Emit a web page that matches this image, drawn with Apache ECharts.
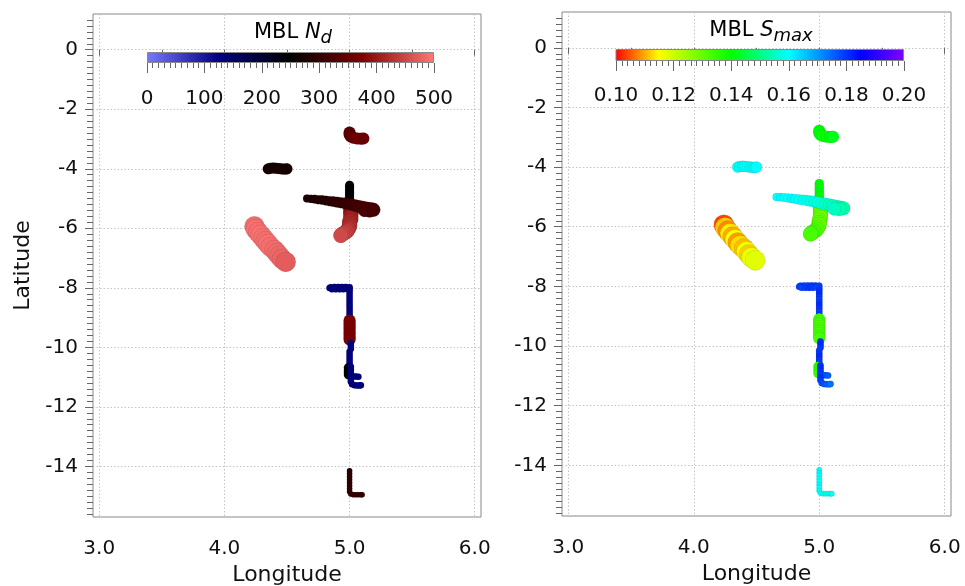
<!DOCTYPE html>
<html><head><meta charset="utf-8">
<script src="https://cdn.jsdelivr.net/npm/echarts@6/dist/echarts.min.js"></script>
<style>html,body{margin:0;padding:0;background:#fff}#c{width:965px;height:586px}</style>
</head><body><div id="c"></div>
<script>
// ---- data: each row = [longitude, latitude, Nd, Smax] ----
const trackPink = [
 [4.24,-5.93,488,0.104],[4.25,-6.03,492,0.112],[4.27,-6.13,490,0.108],[4.29,-6.23,494,0.114],
 [4.31,-6.33,491,0.110],[4.33,-6.43,489,0.115],[4.35,-6.53,493,0.109],[4.37,-6.63,490,0.113],
 [4.40,-6.73,487,0.111],[4.42,-6.83,485,0.116],[4.44,-6.93,483,0.112],[4.46,-7.03,480,0.117],
 [4.49,-7.13,472,0.118]
];
const trackDark4 = [
 [4.35,-4.00,268,0.160],[4.37,-3.98,272,0.158],[4.39,-3.97,270,0.161],[4.41,-3.98,275,0.159],
 [4.43,-3.99,273,0.160],[4.45,-4.00,278,0.158],[4.47,-4.01,276,0.161],[4.49,-4.01,274,0.159],
 [4.50,-4.00,270,0.160]
];
const trackTop = [
 [5.00,-2.78,335,0.140],[5.00,-2.85,338,0.141],[5.01,-2.92,342,0.140],[5.03,-2.96,350,0.139],
 [5.06,-2.98,360,0.141],[5.09,-2.99,365,0.140],[5.11,-2.98,355,0.142]
];
const trackBlackV = [
 [5.00,-4.55,242,0.140],[5.00,-4.63,244,0.141],[5.00,-4.71,245,0.139],[5.00,-4.79,246,0.140],
 [5.00,-4.87,248,0.141],[5.00,-4.95,250,0.140],[5.00,-5.03,252,0.139],[5.00,-5.11,255,0.138],
 [5.00,-5.19,258,0.137]
];
const trackRed = [
 [5.01,-5.30,360,0.133],[5.01,-5.38,370,0.132],[5.01,-5.46,385,0.131],[5.01,-5.54,395,0.130],
 [5.01,-5.62,405,0.131],[5.01,-5.70,410,0.129],[5.00,-5.78,415,0.130],[5.00,-5.86,418,0.131],
 [5.00,-5.94,422,0.130],[4.99,-6.02,428,0.131],[4.98,-6.09,435,0.132],[4.96,-6.15,442,0.133],
 [4.94,-6.20,448,0.134],[4.93,-6.24,452,0.133]
];
const trackDiag = [
 [4.66,-5.00,275,0.160],[4.69,-5.01,278,0.161],[4.72,-5.02,280,0.159],[4.75,-5.04,283,0.160],
 [4.78,-5.05,285,0.161],[4.81,-5.07,288,0.159],[4.84,-5.09,290,0.160],[4.87,-5.10,293,0.158],
 [4.90,-5.12,296,0.159],[4.93,-5.14,299,0.158],[4.96,-5.16,302,0.157],[4.99,-5.18,305,0.158],
 [5.02,-5.21,308,0.157],[5.05,-5.24,312,0.156],[5.08,-5.27,316,0.155],[5.11,-5.30,320,0.156],
 [5.14,-5.33,322,0.154],[5.17,-5.36,318,0.155],[5.19,-5.38,315,0.153],[5.16,-5.41,320,0.154],
 [5.12,-5.40,318,0.155]
];
const trackBlueA = [
 [5.00,-7.98,128,0.178],[4.97,-7.97,126,0.179],[4.94,-7.97,125,0.180],[4.91,-7.97,127,0.179],
 [4.88,-7.97,124,0.178],[4.85,-7.98,126,0.180],[4.84,-8.01,128,0.179],[4.86,-8.05,125,0.178],
 [4.89,-8.05,123,0.179],[4.92,-8.05,126,0.180],[4.95,-8.05,127,0.179],[4.98,-8.04,125,0.178],
 [5.00,-8.06,124,0.179],[5.00,-8.14,126,0.180],[5.00,-8.24,128,0.181],[5.00,-8.34,127,0.180],
 [5.00,-8.44,125,0.179],[5.00,-8.54,124,0.180],[5.00,-8.64,126,0.181],[5.00,-8.74,128,0.180],
 [5.00,-8.84,127,0.179],[5.00,-8.94,125,0.180]
];
const trackRedBlock = [
 [5.00,-9.10,368,0.133],[5.00,-9.18,372,0.134],[5.00,-9.26,370,0.133],[5.00,-9.34,374,0.132],
 [5.00,-9.42,371,0.134],[5.00,-9.50,369,0.133],[5.00,-9.58,373,0.132],[5.00,-9.66,370,0.134],
 [5.00,-9.74,368,0.133]
];
const trackBlueC = [
 [5.01,-9.85,130,0.180],[5.01,-9.95,128,0.181],[5.01,-10.05,126,0.180],[5.00,-10.15,125,0.179],
 [5.00,-10.25,127,0.180],[5.00,-10.35,129,0.181],[5.00,-10.45,126,0.180],[5.00,-10.55,124,0.179]
];
const trackBlob = [
 [4.99,-10.68,252,0.136],[4.99,-10.76,250,0.135],[4.99,-10.84,248,0.136],[4.99,-10.92,251,0.135]
];
const trackBlueD = [
 [5.01,-10.65,128,0.180],[5.01,-10.75,126,0.181],[5.01,-10.85,127,0.180],[5.01,-10.95,125,0.179],
 [5.03,-10.98,124,0.178],[5.05,-10.98,126,0.177],[5.07,-10.99,128,0.176],[5.01,-11.05,127,0.180],
 [5.01,-11.15,125,0.179],[5.02,-11.24,126,0.178],[5.04,-11.27,128,0.177],[5.06,-11.28,127,0.176],
 [5.08,-11.28,125,0.175],[5.09,-11.27,124,0.174]
];
const trackL = [
 [5.00,-14.15,290,0.160],[5.00,-14.25,292,0.161],[5.00,-14.35,295,0.160],[5.00,-14.45,293,0.159],
 [5.00,-14.55,291,0.160],[5.00,-14.65,294,0.161],[5.00,-14.75,296,0.160],[5.00,-14.85,298,0.159],
 [5.01,-14.93,300,0.160],[5.03,-14.95,302,0.159],[5.05,-14.95,300,0.158],[5.07,-14.95,298,0.159],
 [5.09,-14.95,301,0.158],[5.10,-14.95,299,0.159]
];
// ---- axes / tick labels ----
const lonTicks = [3, 4, 5, 6];
const latTicks = [0, -2, -4, -6, -8, -10, -12, -14];
const ndRange = [0, 500];
const smaxRange = [0.10, 0.20];

// ---- styles ----
const F = 'DejaVu Sans';
const ndStops = [[0,'#7878ff'],[0.25,'#000080'],[0.5,'#000000'],[0.75,'#800000'],[1,'#ff7878']];
const smStops = [[0,'#ff0000'],[0.15,'#ffff00'],[0.4,'#00ff00'],[0.6,'#00ffff'],[0.85,'#0000ff'],[1,'#8000ff']];
function hex(c){return [parseInt(c.slice(1,3),16),parseInt(c.slice(3,5),16),parseInt(c.slice(5,7),16)];}
function sample(stops,n){
  const out=[];
  for(let i=0;i<n;i++){
    const t=i/(n-1); let k=0;
    while(k<stops.length-2 && t>stops[k+1][0]) k++;
    const a=stops[k], b=stops[k+1], f=(t-a[0])/(b[0]-a[0]);
    const ca=hex(a[1]), cb=hex(b[1]);
    out.push('rgb('+ca.map((v,j)=>Math.round(v+(cb[j]-v)*f)).join(',')+')');
  }
  return out;
}
const tracks = [
  {d: trackPink, s: 20}, {d: trackDark4, s: 11}, {d: trackTop, s: 12}, {d: trackBlackV, s: 9},
  {d: trackRed, s: 15}, {d: trackDiag, s: v => 8 + (v[0]-4.66)*11.3}, {d: trackBlueA, s: 6.5},
  {d: trackRedBlock, s: 12}, {d: trackBlueC, s: 6.5}, {d: trackBlob, s: 9}, {d: trackBlueD, s: 6.5},
  {d: trackL, s: 5.5}
];

const tickColor = '#666';
const gridLine = {show:true, lineStyle:{color:'#c4c4c4', type:[1.5,2], width:1}};
function mainX(gi){
  return {gridIndex:gi, type:'value', min:2.95, max:6.05, minInterval:1, maxInterval:1,
    name:'Longitude', nameLocation:'middle', nameGap:41,
    nameTextStyle:{fontFamily:F, fontSize:22, color:'#111'},
    axisLine:{show:false},
    axisTick:{show:true, customValues:lonTicks, length:6, lineStyle:{color:tickColor}},
    minorTick:{show:true, splitNumber:2, length:5, lineStyle:{color:tickColor}},
    axisLabel:{customValues:lonTicks, formatter:v=>Number(v).toFixed(1), fontFamily:F, fontSize:20, color:'#111', margin:22},
    splitLine:gridLine};
}
function mainY(gi, withName){
  return {gridIndex:gi, type:'value', min:-15.7, max:1.2, minInterval:2, maxInterval:2,
    name: withName ? 'Latitude' : '', nameLocation:'middle', nameGap:59,
    nameTextStyle:{fontFamily:F, fontSize:22, color:'#111'},
    axisLine:{show:false},
    axisTick:{show:true, customValues:latTicks, length:8, lineStyle:{color:tickColor}},
    minorTick:{show:true, splitNumber:10, length:6, lineStyle:{color:tickColor}},
    axisLabel:{customValues:latTicks, fontFamily:F, fontSize:20, color:'#111', margin:15},
    splitLine:gridLine};
}
function cbX(gi, rng, iv, fmt, margin){
  return {gridIndex:gi, type:'value', min:rng[0], max:rng[1], interval:iv,
    axisLine:{show:false},
    axisTick:{show:true, length:10, lineStyle:{color:tickColor}},
    minorTick:{show:true, splitNumber:10, length:5, lineStyle:{color:tickColor}},
    axisLabel:{fontFamily:F, fontSize:20, color:'#111', margin:margin, formatter:fmt},
    splitLine:{show:false}};
}
const series = [];
const leftIdx = [], rightIdx = [];
[0,1].forEach(p => {
  tracks.forEach(t => {
    (p===0?leftIdx:rightIdx).push(series.length);
    series.push({type:'scatter', xAxisIndex:p, yAxisIndex:p, data:t.d, symbolSize:t.s,
      encode:{x:0, y:1}, silent:true, animation:false,
      itemStyle:{opacity:1, borderColor:'rgba(0,0,0,0.14)', borderWidth:0.6}});
  });
});
function grad(stops){
  return new echarts.graphic.LinearGradient(0,0,1,0, stops.map(s=>({offset:s[0], color:s[1]})));
}
series.push({type:'bar', xAxisIndex:2, yAxisIndex:2, data:[ndRange[1]], barWidth:'100%', silent:true, animation:false,
  itemStyle:{color:grad(ndStops), borderColor:'#888', borderWidth:1}});
series.push({type:'bar', xAxisIndex:3, yAxisIndex:3, data:[smaxRange[1]], barWidth:'100%', silent:true, animation:false,
  itemStyle:{color:grad(smStops), borderColor:'#888', borderWidth:1}});

const rich = {
  a:{fontFamily:F, fontSize:21, color:'#111', lineHeight:24},
  b:{fontFamily:F, fontSize:21, fontStyle:'italic', color:'#111', lineHeight:24},
  c:{fontFamily:F, fontSize:18, fontStyle:'italic', color:'#111', lineHeight:18, padding:[10,0,0,0]}
};
const G = {outerBoundsMode:'none', containLabel:false};
const option = {
  backgroundColor:'#fff',
  animation:false,
  grid:[
    Object.assign({left:93, top:14, width:388, height:503, show:true, borderColor:'#888', borderWidth:1, backgroundColor:'transparent'}, G),
    Object.assign({left:562, top:12, width:389, height:504, show:true, borderColor:'#888', borderWidth:1, backgroundColor:'transparent'}, G),
    Object.assign({left:147, top:52, width:287, height:11}, G),
    Object.assign({left:616, top:49, width:288, height:12}, G)
  ],
  xAxis:[mainX(0), mainX(1), cbX(2, ndRange, 100, null, 26), cbX(3, smaxRange, 0.02, v=>Number(v).toFixed(2), 25)],
  yAxis:[mainY(0,true), mainY(1,false),
    {gridIndex:2, type:'category', data:[''], show:false},
    {gridIndex:3, type:'category', data:[''], show:false}],
  visualMap:[
    {type:'continuous', show:false, seriesIndex:leftIdx, dimension:2, min:ndRange[0], max:ndRange[1],
      inRange:{color:sample(ndStops, 41)}},
    {type:'continuous', show:false, seriesIndex:rightIdx, dimension:3, min:smaxRange[0], max:smaxRange[1],
      inRange:{color:sample(smStops, 81)}}
  ],
  graphic:[
    {type:'text', x:293, y:33, silent:true, style:{text:'{a|MBL }{b|N}{c|d}', rich:rich, align:'center', verticalAlign:'middle'}},
    {type:'text', x:761, y:31, silent:true, style:{text:'{a|MBL }{b|S}{c|max}', rich:rich, align:'center', verticalAlign:'middle'}}
  ],
  series:series
};
const chart = echarts.init(document.getElementById('c'), null, {renderer:'canvas'});
chart.setOption(option);
</script></body></html>
